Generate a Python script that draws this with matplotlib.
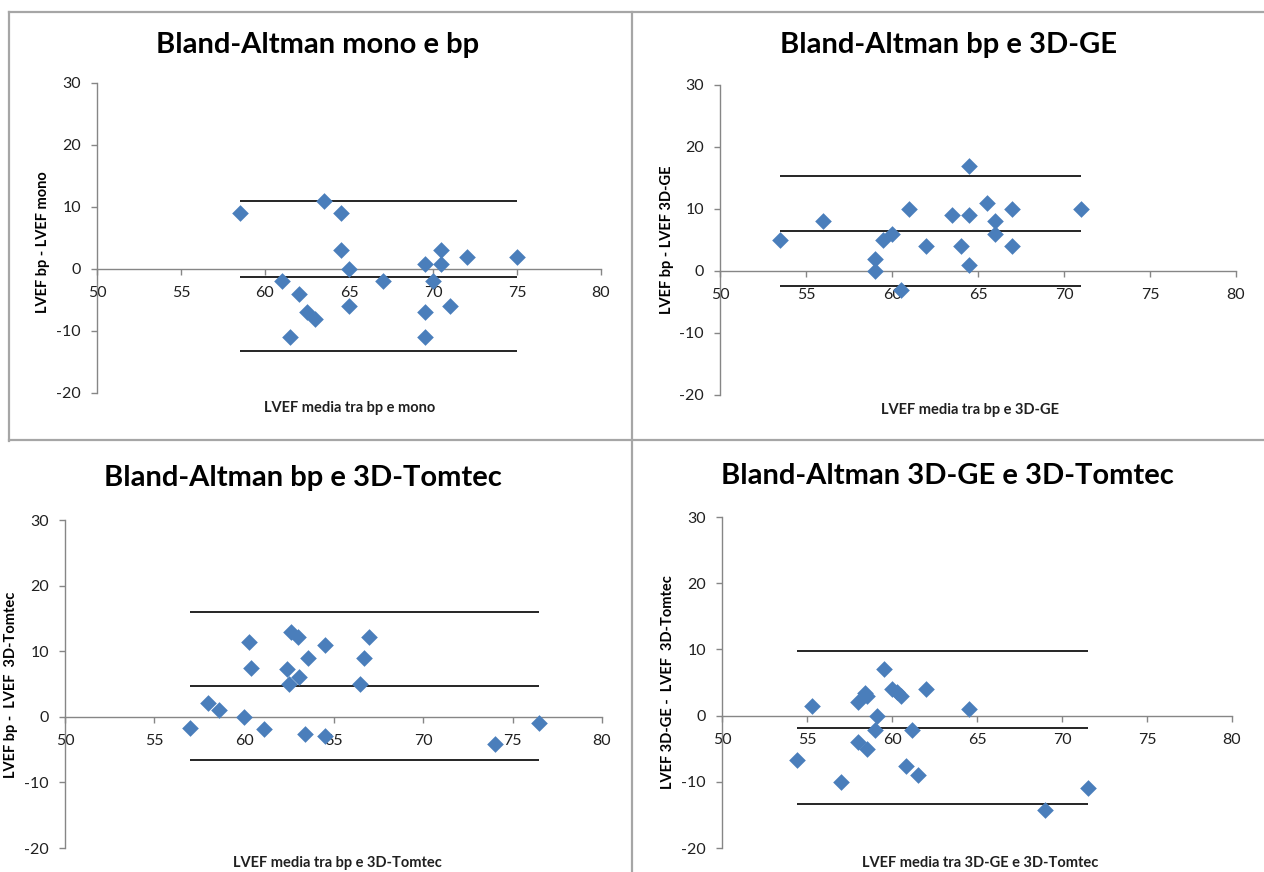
import matplotlib
matplotlib.use("Agg")
import matplotlib.pyplot as plt
from matplotlib.lines import Line2D

plt.rcParams['font.family'] = ['Lato', 'DejaVu Sans']
plt.rcParams['axes.unicode_minus'] = False

# --- dati ---
titles = ["Bland-Altman mono e bp", "Bland-Altman bp e 3D-GE",
          "Bland-Altman bp e 3D-Tomtec", "Bland-Altman 3D-GE e 3D-Tomtec"]
xlabels = ["LVEF media tra bp e mono", "LVEF media tra bp e 3D-GE",
           "LVEF media tra bp e 3D-Tomtec", "LVEF media tra 3D-GE e 3D-Tomtec"]
ylabels = ["LVEF bp - LVEF mono", "LVEF bp - LVEF 3D-GE",
           "LVEF bp -  LVEF  3D-Tomtec", "LVEF 3D-GE -  LVEF  3D-Tomtec"]

media_mono_bp = [58.5, 63.5, 64.5, 64.5, 65, 65, 61, 62, 62.5, 63, 61.5,
                 67, 69.5, 69.5, 69.5, 70, 70.5, 70.5, 71, 72, 75]
diff_mono_bp = [9, 11, 9, 3, 0, -6, -2, -4, -7, -8, -11,
                -2, 0.75, -7, -11, -2, 3, 0.75, -6, 2, 2]

media_bp_ge = [53.5, 56, 59, 59, 59.5, 60, 60.5, 61, 62, 63.5,
               64, 64.5, 64.5, 64.5, 65.5, 66, 66, 67, 67, 71]
diff_bp_ge = [5, 8, 2, 0, 5, 6, -3, 10, 4, 9,
              4, 17, 9, 1, 11, 8, 6, 10, 4, 10]

media_bp_tom = [57, 58, 58.6, 60, 60.3, 60.4, 61.1, 62.4, 62.5, 62.6, 63,
                63.1, 63.4, 63.6, 64.5, 64.5, 66.5, 66.7, 67, 74, 76.5]
diff_bp_tom = [-1.7, 2.1, 1.0, 0, 11.4, 7.4, -1.9, 7.3, 5.0, 13, 12.1,
               6, -2.6, 8.9, 11, -3, 5, 8.9, 12.1, -4.1, -1.0]

media_ge_tom = [54.4, 55.3, 57, 58, 58, 58.4, 58.5, 58.5, 59, 59.1, 59.5,
                60, 60.3, 60.5, 61.2, 60.8, 61.5, 62, 64.5, 69, 71.5]
diff_ge_tom = [-6.7, 1.5, -10, 2, -4, 3.4, 3, -5, -2.1, 0, 7,
               4, 3.5, 3, -2.2, -7.6, -9, 4, 1, -14.2, -11]

# limiti di concordanza (superiore, media, inferiore)
limiti = [[11, -1.3, -13.2],
          [15.4, 6.5, -2.5],
          [16, 4.7, -6.6],
          [9.7, -1.9, -13.4]]

serie = [(media_mono_bp, diff_mono_bp), (media_bp_ge, diff_bp_ge),
         (media_bp_tom, diff_bp_tom), (media_ge_tom, diff_ge_tom)]

W, H = 1264, 872
fig = plt.figure(figsize=(W / 100, H / 100), dpi=100)

def px(x, y):
    return x / W, 1 - y / H

# posizioni assi in pixel: sinistra, destra, alto, basso
box = [(97, 601, 83, 393), (720, 1236, 85, 395),
       (65, 602, 520, 848), (722, 1232, 517, 848)]
title_pos = [(318, 45), (948, 45), (303, 478), (947, 476)]
xlabel_pos = [(350, 408), (970, 410), (337, 863), (980, 863)]
ylabel_pos = [(43, 242), (667, 240), (11, 685), (668, 682)]

gray = '#868686'
for i in range(4):
    l, r, t, b = box[i]
    ax = fig.add_axes([l / W, 1 - b / H, (r - l) / W, (b - t) / H])
    x, y = serie[i]
    ax.scatter(x, y, marker='D', s=72, color='#4a7ebb', zorder=3, linewidths=0)
    for v in limiti[i]:
        ax.hlines(v, min(x), max(x), color='black', lw=1.2, zorder=2)
    ax.set_xlim(50, 80)
    ax.set_ylim(-20, 30)
    ax.set_xticks(range(50, 81, 5))
    ax.set_yticks(range(-20, 31, 10))
    ax.spines['top'].set_visible(False)
    ax.spines['right'].set_visible(False)
    ax.spines['bottom'].set_position(('data', 0))
    for s in ['left', 'bottom']:
        ax.spines[s].set_color(gray)
        ax.spines[s].set_linewidth(1.0)
    ax.tick_params(axis='both', colors=gray, labelcolor='#202020',
                   labelsize=11.5, length=4.5, width=1.0, direction='out')
    ax.tick_params(axis='x', pad=8)
    ax.tick_params(axis='y', pad=7)
    ax.patch.set_alpha(0)

    tx, ty = px(*title_pos[i])
    fig.text(tx, ty, titles[i], ha='center', va='center',
             fontsize=21, fontweight='bold')
    lx, ly = px(*xlabel_pos[i])
    fig.text(lx, ly, xlabels[i], ha='center', va='center',
             fontsize=10.5, fontweight='bold', color='#202020')
    yx, yy = px(*ylabel_pos[i])
    fig.text(yx, yy, ylabels[i], ha='center', va='center', rotation=90,
             fontsize=10.5, fontweight='bold')

# bordi grigi dei riquadri
bordo = dict(color='#a6a6a6', lw=1.6, transform=fig.transFigure)
for (x0, y0), (x1, y1) in [((9, 12), (1264, 12)), ((9, 12), (9, 441)),
                           ((9, 440), (1264, 440)), ((632, 12), (632, 872))]:
    p0, p1 = px(x0, y0), px(x1, y1)
    fig.add_artist(Line2D([p0[0], p1[0]], [p0[1], p1[1]], **bordo))

fig.savefig('out.png', dpi=100)
